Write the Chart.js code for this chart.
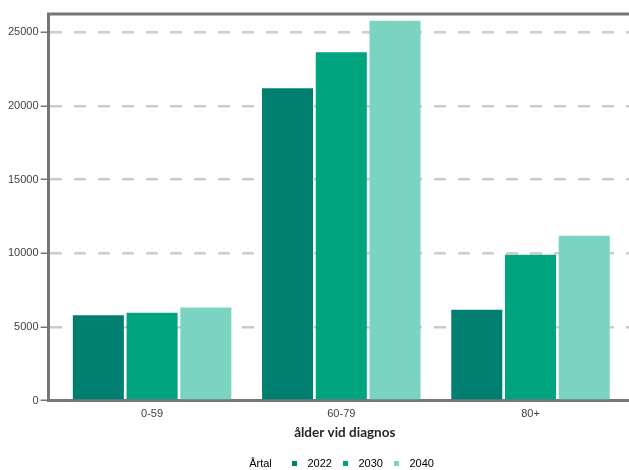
<!DOCTYPE html>
<html>
<head>
<meta charset="utf-8">
<script src="https://cdn.jsdelivr.net/npm/chart.js@4"></script>
<style>
  html, body { margin: 0; padding: 0; background: #ffffff; overflow: hidden; }
  #wrap { position: relative; width: 629px; height: 470px; overflow: hidden; }
</style>
</head>
<body>
<div id="wrap"><canvas id="c" width="641" height="470"></canvas></div>
<script>
// ---- data ----
const categories = ['0-59', '60-79', '80+'];
const years = ['2022', '2030', '2040'];
const values2022 = [5800, 21200, 6170];
const values2030 = [5960, 23650, 9910];
const values2040 = [6320, 25800, 11190];
const yTicks = [0, 5000, 10000, 15000, 20000, 25000];
const xTitle = 'ålder vid diagnos';
const legendTitle = 'Årtal';

const colors = ['#007f71', '#00a47f', '#7bd4c2'];
const seriesValues = [values2022, values2030, values2040];

function markerImage(color) {
  const c = document.createElement('canvas');
  c.width = 10; c.height = 5;
  const g = c.getContext('2d');
  g.fillStyle = color;
  g.fillRect(0, 0, 5, 5);
  return c;
}
const blankMarker = (() => { const c = document.createElement('canvas'); c.width = 1; c.height = 1; return c; })();

const datasets = years.map((yr, i) => ({
  label: yr,
  data: categories.map((_, k) => ({ x: k, y: seriesValues[i][k] })),
  backgroundColor: colors[i],
  borderWidth: 0,
  categoryPercentage: 0.852,
  barPercentage: 0.95
}));

const topBorder = {
  id: 'topBorder',
  afterLayout(chart) {
    // move the legend row so that it sits like in the reference
    const lg = chart.legend;
    if (lg) { lg.left -= 11; lg.right -= 11; }
  },
  afterDatasetsDraw(chart) {
    const { ctx, chartArea } = chart;
    ctx.save();
    ctx.strokeStyle = '#767676';
    ctx.lineWidth = 3;
    ctx.beginPath();
    ctx.moveTo(chartArea.left - 1.5, chartArea.top);
    ctx.lineTo(chart.width, chartArea.top);
    ctx.stroke();
    ctx.restore();
  }
};

new Chart(document.getElementById('c'), {
  type: 'bar',
  data: { datasets },
  plugins: [topBorder],
  options: {
    responsive: false,
    animation: false,
    layout: { padding: { top: 14, left: 6, right: 0, bottom: -9 } },
    plugins: {
      tooltip: { enabled: false },
      legend: {
        position: 'bottom',
        fullSize: false,
        labels: {
          font: { family: 'Liberation Sans', size: 11 },
          color: '#404040',
          usePointStyle: true,
          pointStyleWidth: 10,
          boxHeight: 5,
          padding: 11,
          generateLabels(chart) {
            const items = [{ text: legendTitle + '\u00a0\u00a0\u00a0', pointStyle: blankMarker, fillStyle: 'rgba(0,0,0,0)', strokeStyle: 'rgba(0,0,0,0)', lineWidth: 0, hidden: false }];
            chart.data.datasets.forEach((ds, i) => {
              items.push({ text: ds.label, pointStyle: markerImage(colors[i]), fillStyle: colors[i], strokeStyle: colors[i], lineWidth: 0, hidden: false, datasetIndex: i });
            });
            return items;
          }
        },
        onClick: () => {}
      }
    },
    scales: {
      x: {
        type: 'linear',
        offset: false,
        min: -0.547,
        max: 2.584,
        grid: { display: false, drawTicks: false },
        border: { display: true, color: '#767676', width: 3 },
        afterBuildTicks(scale) {
          scale.ticks = categories.map((_, k) => ({ value: k }));
        },
        ticks: {
          stepSize: 1,
          includeBounds: false,
          autoSkip: false,
          maxRotation: 0,
          padding: 7,
          color: '#404040',
          font: { family: 'Liberation Sans', size: 11 },
          callback: (v) => categories[v] ?? ''
        },
        title: {
          display: true,
          text: xTitle,
          color: '#262626',
          font: { family: 'Lato', size: 13.5, weight: 'bold' },
          padding: { top: -3, bottom: 6 }
        }
      },
      y: {
        min: 0,
        max: 26250,
        afterBuildTicks(scale) {
          scale.ticks = yTicks.map(v => ({ value: v }));
        },
        grid: {
          color: '#cccccc',
          lineWidth: 2.5,
          drawTicks: true,
          tickLength: 8,
          tickColor: '#767676',
          tickWidth: 1.5,
          tickBorderDash: []
        },
        border: { display: true, color: '#767676', width: 3, dash: [12, 12] },
        ticks: {
          padding: 2,
          color: '#404040',
          font: { family: 'Liberation Sans', size: 11 },
          callback: (v) => String(v)
        }
      }
    }
  }
});
</script>
</body>
</html>
